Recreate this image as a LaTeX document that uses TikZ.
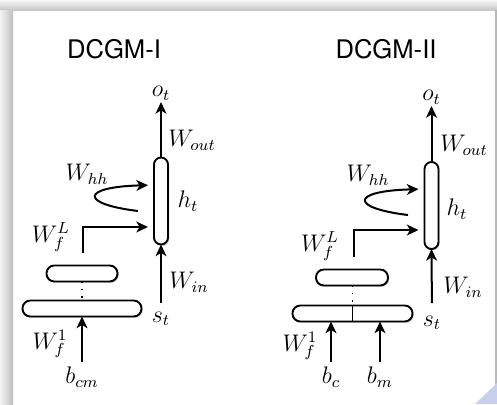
\documentclass[tikz,border=0pt]{standalone}
\usepackage{fontspec}
\newfontfamily\titlefont{TeX Gyre Heros}
\usetikzlibrary{arrows.meta,shadows,calc}
\definecolor{tri}{HTML}{C9D0EE}
\begin{document}
\begin{tikzpicture}[x=0.5pt,y=-0.5pt,
  arr/.style={-{Stealth[length=5.8pt,width=5.4pt,inset=1.6pt]}, line width=1pt},
  lbl/.style={inner sep=0pt, outer sep=0pt, font=\fontsize{11.5}{13}\selectfont},
  ttl/.style={inner sep=0pt, font=\titlefont\fontsize{12.8}{15}\selectfont},
  shad/.style={drop shadow={opacity=0.3, shadow xshift=0.7pt, shadow yshift=-0.7pt}},
  vbox/.style={draw, line width=0.95pt, fill=white, rounded corners=3.5pt, minimum width=7pt, minimum height=43.5pt, inner sep=0pt, outer sep=0pt, shad},
  hbox/.style={draw, line width=0.95pt, fill=white, rounded corners=3.9pt, minimum height=8pt, inner sep=0pt, outer sep=0pt, shad},
  dots/.style={line width=0.8pt, dash pattern=on 0.7pt off 3pt},
  plain/.style={line width=0.85pt},
]
\useasboundingbox (0,0) rectangle (497,404);
% page background
\fill[white] (0,0) rectangle (497,404);
\shade[top color=gray!6, bottom color=gray!45] (0,0) rectangle (497,10);
\shade[left color=gray!10, right color=gray!50] (0,10) rectangle (13,404);
\fill[gray!55] (495,10) rectangle (497,404);
\fill[tri] (475,404) -- (497,383) -- (497,404) -- cycle;

% ---------------- DCGM-I ----------------
\node[ttl] (t1) at (114,49) {DCGM-I};
\node[vbox] (h1) at (161,201) {};
\node[lbl, anchor=south] (o1) at (161,100) {$o_t$};
\draw[arr, shorten >=1pt] (h1.north) -- (o1.south);
\node[lbl] (wo1) at (192,140) {$W_{out}$};
\node[lbl] (hl1) at (188,201) {$h_t$};
\node[lbl] (whh1) at (87,174) {$W_{hh}$};
\coordinate (cs1) at (138,211);
\draw[arr, shorten >=3pt] (cs1) .. controls (80,204) and (80,187) .. ($(h1.west)+(0,-16)$);
\coordinate (e1) at (83,253);
\draw[arr, shorten >=3pt] (e1) |- ($(h1.west)+(0,26)$);
\node[lbl] (wfl1) at (51,237) {$W_f^L$};
\node[hbox, minimum width=35.5pt] (u1) at (82,273.5) {};
\node[hbox, minimum width=59.5pt] (l1) at (82,308.5) {};
\draw[dots] (u1.south) -- (l1.north);
\node[lbl, anchor=north] (b1) at (82,367) {$b_{cm}$};
\draw[arr, shorten <=2.5pt] (b1.north) -- (l1.south);
\node[lbl] (wf11) at (50,344) {$W_f^1$};
\node[lbl, anchor=north] (s1) at (161,312) {$s_t$};
\draw[arr, shorten <=4.5pt] (s1.north) -- (h1.south);
\node[lbl] (wi1) at (189,282) {$W_{in}$};

% ---------------- DCGM-II ----------------
\node[ttl] (t2) at (386,49) {DCGM-II};
\node[vbox] (h2) at (431.5,205.5) {};
\node[lbl, anchor=south] (o2) at (431.5,104) {$o_t$};
\draw[arr, shorten >=1pt] (h2.north) -- (o2.south);
\node[lbl] (wo2) at (464,145) {$W_{out}$};
\node[lbl] (hl2) at (457,209) {$h_t$};
\node[lbl] (whh2) at (368,175) {$W_{hh}$};
\coordinate (cs2) at (408,215);
\draw[arr, shorten >=3pt] (cs2) .. controls (350,208) and (350,191) .. ($(h2.west)+(0,-16.5)$);
\coordinate (e2) at (354,257);
\draw[arr, shorten >=3pt] (e2) |- ($(h2.west)+(0,24.5)$);
\node[lbl] (wfl2) at (320,246) {$W_f^L$};
\node[hbox, minimum width=36pt] (u2) at (352,277.5) {};
\node[hbox, minimum width=60pt] (l2) at (352.5,313.5) {};
\draw[dots] (u2.south -| l2.north) -- (l2.north);
\draw[plain, line width=0.8pt] (l2.north) -- (l2.south);
\node[lbl, anchor=north] (bc) at (331,367) {$b_c$};
\draw[arr, shorten <=2.5pt] (bc.north) -- (bc.north |- l2.south);
\node[lbl, anchor=north] (bm) at (380,367) {$b_m$};
\draw[arr, shorten <=2.5pt] (bm.north) -- (bm.north |- l2.south);
\node[lbl] (wf12) at (300,346) {$W_f^1$};
\node[lbl, anchor=north] (s2) at (432,316) {$s_t$};
\draw[arr, shorten <=6.5pt] (s2.north) -- (h2.south);
\node[lbl] (wi2) at (463,287) {$W_{in}$};
\end{tikzpicture}
\end{document}
